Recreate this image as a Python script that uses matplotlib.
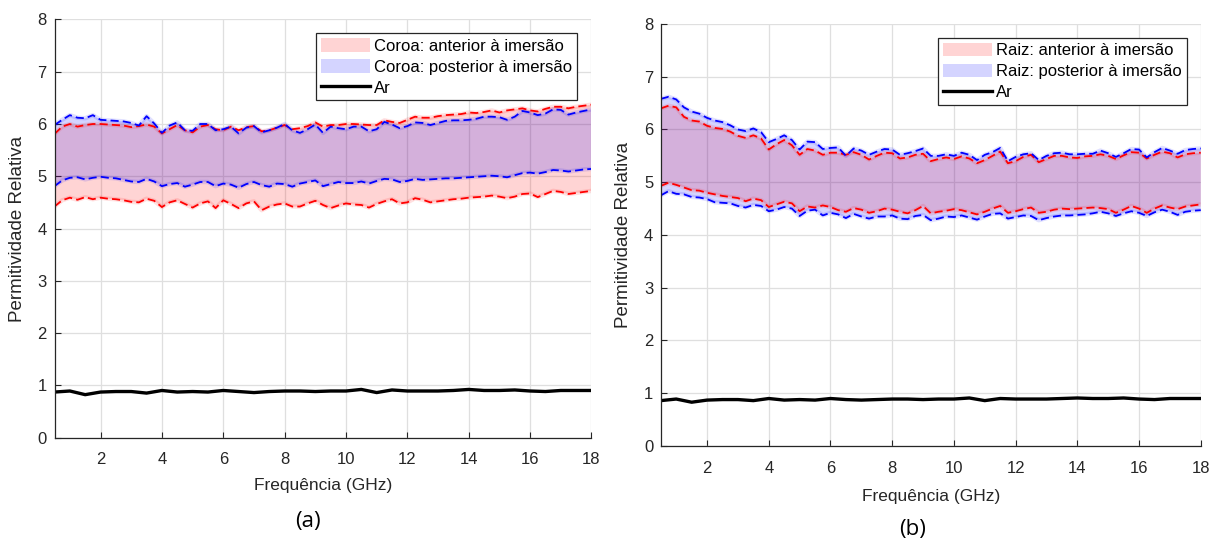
import numpy as np
import matplotlib
matplotlib.use("Agg")
import matplotlib.pyplot as plt
from matplotlib.patches import Patch
from matplotlib.lines import Line2D

plt.rcParams['font.family'] = ['Liberation Sans', 'DejaVu Sans']

# frequency sweep (GHz)
freq = [0.5, 0.75, 1.0, 1.25, 1.5, 1.75, 2.0, 2.25,
        2.5, 2.75, 3.0, 3.25, 3.5, 3.75, 4.0, 4.25,
        4.5, 4.75, 5.0, 5.25, 5.5, 5.75, 6.0, 6.25,
        6.5, 6.75, 7.0, 7.25, 7.5, 7.75, 8.0, 8.25,
        8.5, 8.75, 9.0, 9.25, 9.5, 9.75, 10.0, 10.25,
        10.5, 10.75, 11.0, 11.25, 11.5, 11.75, 12.0, 12.25,
        12.5, 12.75, 13.0, 13.25, 13.5, 13.75, 14.0, 14.25,
        14.5, 14.75, 15.0, 15.25, 15.5, 15.75, 16.0, 16.25,
        16.5, 16.75, 17.0, 17.25, 17.5, 17.75, 18.0]

# (a) Coroa - limites superior / inferior
coroa_ant_sup = [5.81, 5.95, 6.00, 5.95, 5.98, 6.00, 6.00, 5.99,
                 5.98, 5.97, 5.94, 5.96, 5.99, 5.95, 5.82, 5.90,
                 5.98, 5.88, 5.84, 5.95, 5.98, 5.90, 5.88, 5.95,
                 5.88, 5.94, 5.96, 5.86, 5.88, 5.93, 5.98, 5.90,
                 5.92, 5.96, 6.03, 5.95, 5.98, 5.98, 6.00, 6.00,
                 5.99, 5.98, 5.98, 6.07, 6.04, 6.02, 6.08, 6.14,
                 6.12, 6.12, 6.15, 6.17, 6.18, 6.19, 6.22, 6.21,
                 6.23, 6.26, 6.22, 6.26, 6.28, 6.30, 6.26, 6.24,
                 6.29, 6.33, 6.33, 6.30, 6.33, 6.35, 6.37]
coroa_ant_inf = [4.42, 4.54, 4.59, 4.55, 4.60, 4.56, 4.59, 4.57,
                 4.56, 4.54, 4.51, 4.50, 4.57, 4.53, 4.41, 4.50,
                 4.54, 4.47, 4.40, 4.48, 4.52, 4.39, 4.54, 4.47,
                 4.39, 4.48, 4.52, 4.35, 4.42, 4.46, 4.48, 4.42,
                 4.42, 4.48, 4.53, 4.45, 4.39, 4.44, 4.48, 4.46,
                 4.45, 4.40, 4.47, 4.52, 4.56, 4.48, 4.50, 4.58,
                 4.55, 4.50, 4.52, 4.54, 4.56, 4.57, 4.59, 4.60,
                 4.61, 4.63, 4.61, 4.58, 4.61, 4.66, 4.67, 4.60,
                 4.66, 4.72, 4.70, 4.66, 4.68, 4.70, 4.72]
coroa_pos_sup = [5.98, 6.08, 6.17, 6.12, 6.11, 6.17, 6.08, 6.07,
                 6.06, 6.05, 6.02, 5.97, 6.15, 6.01, 5.83, 5.97,
                 6.03, 5.88, 5.87, 6.00, 6.00, 5.88, 5.90, 5.95,
                 5.82, 5.93, 5.96, 5.84, 5.88, 5.93, 6.00, 5.88,
                 5.83, 5.90, 5.99, 5.83, 5.95, 5.92, 5.90, 5.95,
                 5.95, 5.86, 5.90, 6.04, 5.99, 5.92, 5.96, 6.03,
                 6.02, 5.98, 6.02, 6.06, 6.07, 6.07, 6.08, 6.10,
                 6.14, 6.14, 6.13, 6.08, 6.14, 6.25, 6.22, 6.17,
                 6.20, 6.28, 6.27, 6.18, 6.22, 6.25, 6.28]
coroa_pos_inf = [4.81, 4.92, 4.97, 4.98, 4.94, 4.97, 4.99, 4.97,
                 4.96, 4.93, 4.90, 4.89, 4.95, 4.90, 4.81, 4.85,
                 4.87, 4.80, 4.84, 4.89, 4.89, 4.81, 4.86, 4.84,
                 4.78, 4.85, 4.89, 4.83, 4.80, 4.86, 4.85, 4.80,
                 4.86, 4.89, 4.92, 4.81, 4.85, 4.89, 4.87, 4.87,
                 4.90, 4.86, 4.91, 4.95, 4.94, 4.89, 4.91, 4.95,
                 4.93, 4.94, 4.95, 4.96, 4.96, 4.97, 4.98, 4.99,
                 5.00, 5.01, 5.00, 4.98, 5.02, 5.06, 5.07, 5.05,
                 5.08, 5.12, 5.11, 5.09, 5.11, 5.13, 5.14]

# (b) Raiz - limites superior / inferior
raiz_ant_sup = [6.40, 6.45, 6.42, 6.24, 6.17, 6.15, 6.07, 6.03,
                6.01, 5.96, 5.88, 5.84, 5.89, 5.83, 5.62, 5.72,
                5.80, 5.70, 5.52, 5.63, 5.60, 5.52, 5.56, 5.56,
                5.52, 5.57, 5.52, 5.43, 5.50, 5.56, 5.55, 5.45,
                5.47, 5.52, 5.54, 5.40, 5.44, 5.47, 5.44, 5.49,
                5.45, 5.36, 5.42, 5.50, 5.58, 5.36, 5.40, 5.48,
                5.52, 5.38, 5.44, 5.50, 5.50, 5.47, 5.46, 5.49,
                5.50, 5.53, 5.50, 5.44, 5.51, 5.57, 5.56, 5.45,
                5.52, 5.58, 5.55, 5.47, 5.53, 5.55, 5.56]
raiz_ant_inf = [4.93, 4.99, 4.95, 4.90, 4.85, 4.84, 4.80, 4.77,
                4.74, 4.72, 4.70, 4.64, 4.69, 4.66, 4.53, 4.58,
                4.63, 4.60, 4.45, 4.54, 4.52, 4.56, 4.53, 4.47,
                4.44, 4.51, 4.48, 4.42, 4.45, 4.50, 4.48, 4.44,
                4.41, 4.47, 4.55, 4.41, 4.44, 4.46, 4.49, 4.47,
                4.43, 4.39, 4.44, 4.50, 4.55, 4.42, 4.45, 4.49,
                4.52, 4.42, 4.44, 4.48, 4.50, 4.49, 4.50, 4.51,
                4.52, 4.51, 4.49, 4.42, 4.48, 4.55, 4.50, 4.42,
                4.50, 4.56, 4.52, 4.49, 4.54, 4.56, 4.58]
raiz_pos_sup = [6.58, 6.62, 6.57, 6.42, 6.34, 6.30, 6.22, 6.17,
                6.14, 6.08, 6.00, 5.97, 6.02, 5.95, 5.76, 5.82,
                5.89, 5.80, 5.62, 5.77, 5.76, 5.63, 5.65, 5.66,
                5.50, 5.64, 5.60, 5.52, 5.58, 5.63, 5.62, 5.52,
                5.55, 5.59, 5.64, 5.50, 5.50, 5.53, 5.50, 5.56,
                5.52, 5.42, 5.52, 5.57, 5.65, 5.40, 5.48, 5.53,
                5.55, 5.42, 5.50, 5.55, 5.56, 5.53, 5.53, 5.54,
                5.54, 5.60, 5.55, 5.48, 5.55, 5.63, 5.62, 5.47,
                5.57, 5.65, 5.60, 5.54, 5.61, 5.63, 5.64]
raiz_pos_inf = [4.75, 4.83, 4.78, 4.77, 4.72, 4.71, 4.68, 4.62,
                4.61, 4.60, 4.55, 4.52, 4.57, 4.55, 4.45, 4.48,
                4.53, 4.50, 4.36, 4.46, 4.48, 4.37, 4.42, 4.39,
                4.32, 4.40, 4.35, 4.31, 4.35, 4.35, 4.37, 4.31,
                4.30, 4.36, 4.38, 4.28, 4.31, 4.35, 4.34, 4.37,
                4.33, 4.29, 4.35, 4.40, 4.41, 4.31, 4.34, 4.37,
                4.36, 4.28, 4.32, 4.35, 4.37, 4.37, 4.38, 4.39,
                4.41, 4.44, 4.41, 4.36, 4.41, 4.45, 4.42, 4.36,
                4.43, 4.48, 4.44, 4.38, 4.44, 4.46, 4.47]

# ar (referencia), a cada 0.5 GHz
freq_ar = freq[::2]
ar_a = [0.87, 0.89, 0.82, 0.87, 0.88, 0.88, 0.85, 0.90, 0.87, 0.88,
        0.87, 0.90, 0.88, 0.86, 0.88, 0.89, 0.89, 0.88, 0.89, 0.89,
        0.92, 0.86, 0.91, 0.89, 0.89, 0.89, 0.90, 0.92, 0.90, 0.90,
        0.91, 0.89, 0.88, 0.90, 0.90, 0.90]
ar_b = [0.86, 0.89, 0.83, 0.87, 0.88, 0.88, 0.86, 0.90, 0.87, 0.88,
        0.87, 0.90, 0.88, 0.87, 0.88, 0.89, 0.89, 0.88, 0.89, 0.89,
        0.91, 0.86, 0.90, 0.89, 0.89, 0.89, 0.90, 0.91, 0.90, 0.90,
        0.91, 0.89, 0.88, 0.90, 0.90, 0.90]

CINZA = '#262626'
ALPHA = 0.17


def painel(ax, nome, ant_sup, ant_inf, pos_sup, pos_inf, ar, leg_pos):
    f = np.array(freq)
    ax.fill_between(f, ant_inf, ant_sup, facecolor='r', edgecolor='none',
                    alpha=ALPHA)
    ax.fill_between(f, pos_inf, pos_sup, facecolor='b', edgecolor='none',
                    alpha=ALPHA)
    # faixa clara em volta das bordas da area
    for y, c in ((ant_sup, 'r'), (ant_inf, 'r'), (pos_sup, 'b'), (pos_inf, 'b')):
        ax.plot(f, y, color=c, lw=3.2, alpha=0.12, solid_capstyle='butt')
    for y in (ant_sup, ant_inf):
        ax.plot(f, y, color='r', lw=1.3, dashes=(4.5, 2.3))
    for y in (pos_sup, pos_inf):
        ax.plot(f, y, color='b', lw=1.3, dashes=(4.5, 2.3))
    ax.plot(freq_ar, ar, color='k', lw=2.4)

    ax.set_xlim(0.5, 18)
    ax.set_ylim(0, 8)
    ax.set_xticks(np.arange(2, 19, 2))
    ax.set_yticks(np.arange(0, 9, 1))
    ax.grid(True, color='#dfdfdf', lw=0.9)
    ax.set_axisbelow(True)
    for s in ('top', 'right'):
        ax.spines[s].set_visible(False)
    for s in ('left', 'bottom'):
        ax.spines[s].set_color(CINZA)
        ax.spines[s].set_linewidth(0.9)
    ax.tick_params(direction='in', length=4, width=0.8, colors=CINZA,
                   labelsize=12)
    ax.tick_params(axis='x', pad=10.5)
    ax.tick_params(axis='y', pad=5.5)

    ax.set_ylabel('Permitividade Relativa', fontsize=13.5, color=CINZA)
    ax.yaxis.set_label_coords(-0.053, 0.5)

    handles = [Patch(facecolor='r', alpha=ALPHA, edgecolor='none'),
               Patch(facecolor='b', alpha=ALPHA, edgecolor='none'),
               Line2D([], [], color='k', lw=2.4)]
    labels = [nome + ': anterior à imersão',
              nome + ': posterior à imersão',
              'Ar']
    leg = ax.legend(handles, labels, loc='upper right', bbox_to_anchor=leg_pos,
                    fontsize=12, fancybox=False, framealpha=1,
                    edgecolor=CINZA, handlelength=2.95, handleheight=0.9,
                    handletextpad=0.25, borderpad=0.28, labelspacing=0.32,
                    borderaxespad=0)
    leg.get_frame().set_linewidth(0.9)


fig = plt.figure(figsize=(12.14, 5.40), dpi=100)
ax1 = fig.add_axes([0.0449, 0.1898, 0.4423, 0.7741])
ax2 = fig.add_axes([0.5443, 0.1741, 0.4448, 0.7815])

painel(ax1, 'Coroa', coroa_ant_sup, coroa_ant_inf, coroa_pos_sup,
       coroa_pos_inf, ar_a, (0.973, 0.967))
painel(ax2, 'Raiz', raiz_ant_sup, raiz_ant_inf, raiz_pos_sup,
       raiz_pos_inf, ar_b, (0.974, 0.967))

ax1.set_xlabel('Frequência (GHz)', fontsize=12.5, color=CINZA)
ax1.xaxis.set_label_coords(0.5, -0.097)
ax2.set_xlabel('Frequência (GHz)', fontsize=12.5, color=CINZA)
ax2.xaxis.set_label_coords(0.5, -0.102)

fig.text(308 / 1214, 1 - 521 / 540, '(a)', fontsize=16, family='Open Sans',
         ha='center', va='center', color='k')
fig.text(913 / 1214, 1 - 529 / 540, '(b)', fontsize=16, family='Open Sans',
         ha='center', va='center', color='k')

fig.savefig('out.png', dpi=100)
